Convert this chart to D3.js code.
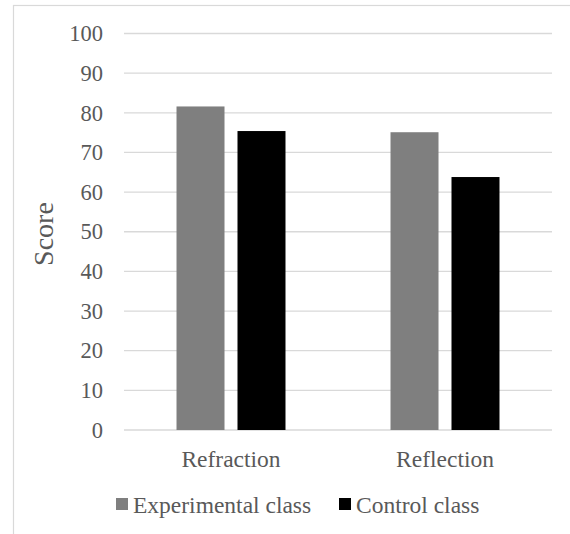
<!DOCTYPE html>
<html>
<head>
<meta charset="utf-8">
<script src="https://cdn.jsdelivr.net/npm/d3@7"></script>
<style>
  html, body { margin: 0; padding: 0; background: #ffffff; }
  svg { display: block; }
  text { font-family: "Liberation Serif", "Times New Roman", serif; fill: #595959; }
</style>
</head>
<body>
<svg id="chart" width="570" height="534"></svg>
<script>
const categories = ["Refraction", "Reflection"];
const seriesNames = ["Experimental class", "Control class"];
const experimentalValues = [81.6, 75.1];
const controlValues = [75.4, 63.8];
const yTicks = [0, 10, 20, 30, 40, 50, 60, 70, 80, 90, 100];
const seriesColors = ["#7f7f7f", "#000000"];

const seriesValues = [experimentalValues, controlValues];
const data = categories.map((c, i) => ({
  category: c,
  values: seriesNames.map((s, j) => ({ series: s, value: seriesValues[j][i] }))
}));

const svg = d3.select("#chart");
const plotLeft = 124, plotRight = 552, plotTop = 33.5, plotBottom = 430;

// Outer chart border (extends past the right and bottom of the window)
svg.append("rect")
  .attr("x", 13.5).attr("y", 5.5)
  .attr("width", 600).attr("height", 600)
  .attr("fill", "none").attr("stroke", "#d9d9d9").attr("stroke-width", 1.2);

const x0 = d3.scaleBand().domain(categories).range([plotLeft, plotRight]).padding(0);
const x1 = d3.scaleBand().domain(seriesNames).range([0, x0.bandwidth()])
  .paddingInner(0.213).paddingOuter(0.861);
const y = d3.scaleLinear().domain([0, 100]).range([plotBottom, plotTop]);
const color = d3.scaleOrdinal().domain(seriesNames).range(seriesColors);

// Gridlines
svg.append("g")
  .selectAll("line")
  .data(yTicks)
  .join("line")
  .attr("x1", plotLeft).attr("x2", plotRight)
  .attr("y1", d => y(d)).attr("y2", d => y(d))
  .attr("stroke", "#d9d9d9").attr("stroke-width", 1.3);

// Y axis labels
const yAxis = d3.axisLeft(y).tickValues(yTicks).tickSize(0).tickPadding(21);
const gy = svg.append("g").attr("transform", `translate(${plotLeft},0)`).call(yAxis);
gy.select(".domain").remove();
gy.selectAll("text")
  .attr("font-family", "Liberation Serif, Times New Roman, serif")
  .attr("font-size", 22.5).attr("fill", "#595959");

// Bars
const groups = svg.append("g").selectAll("g")
  .data(data).join("g")
  .attr("transform", d => `translate(${x0(d.category)},0)`);
groups.selectAll("rect")
  .data(d => d.values).join("rect")
  .attr("x", d => x1(d.series))
  .attr("width", x1.bandwidth())
  .attr("y", d => y(d.value))
  .attr("height", d => y(0) - y(d.value))
  .attr("fill", d => color(d.series));

// X axis labels
const xAxis = d3.axisBottom(x0).tickSize(0).tickPadding(20);
const gx = svg.append("g").attr("transform", `translate(0,${plotBottom})`).call(xAxis);
gx.select(".domain").remove();
gx.selectAll("text")
  .attr("font-family", "Liberation Serif, Times New Roman, serif")
  .attr("font-size", 23.5).attr("fill", "#595959");

// Y axis title
svg.append("text")
  .attr("transform", "translate(53,234) rotate(-90)")
  .attr("text-anchor", "middle")
  .attr("font-size", 28)
  .text("Score");

// Legend
const legendItems = [
  { name: seriesNames[0], sx: 116, tx: 133 },
  { name: seriesNames[1], sx: 339, tx: 356 }
];
const lg = svg.append("g");
lg.selectAll("rect").data(legendItems).join("rect")
  .attr("x", d => d.sx).attr("y", 498)
  .attr("width", 12).attr("height", 12)
  .attr("fill", d => color(d.name));
lg.selectAll("text").data(legendItems).join("text")
  .attr("x", d => d.tx).attr("y", 513)
  .attr("font-size", 23.5)
  .text(d => d.name);
</script>
</body>
</html>
